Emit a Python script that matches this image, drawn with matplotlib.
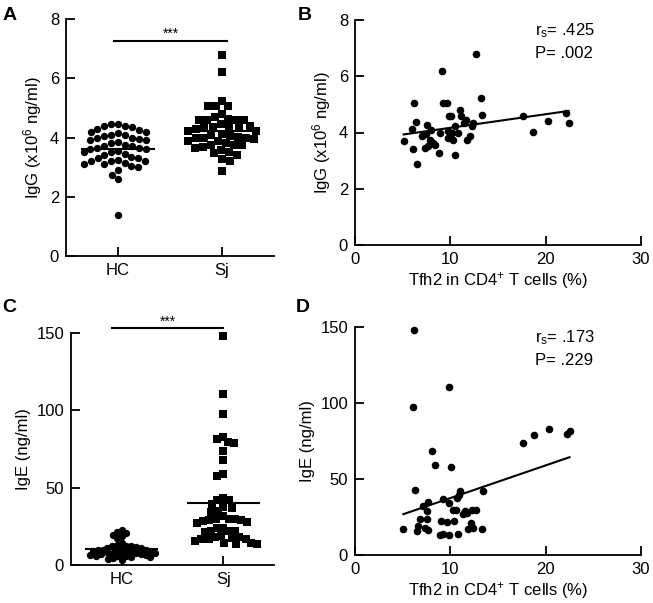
import matplotlib
matplotlib.use("Agg")
import matplotlib.pyplot as plt
import numpy as np

plt.rcParams['font.family'] = ['Liberation Sans', 'DejaVu Sans']
plt.rcParams['mathtext.fontset'] = 'custom'
plt.rcParams['mathtext.rm'] = 'Liberation Sans'
plt.rcParams['mathtext.it'] = 'Liberation Sans:italic'

groups = ["HC", "Sj"]

# IgG (x10^6 ng/ml), healthy controls
hc_igg = [1.4, 2.6, 2.75, 2.9, 3.0, 3.05, 3.1, 3.1, 3.15, 3.2, 3.2, 3.2, 3.25, 3.3, 3.3,
          3.35, 3.4, 3.45, 3.5, 3.5, 3.55, 3.6, 3.6, 3.65, 3.65, 3.7, 3.7, 3.75, 3.8, 3.85,
          3.9, 3.9, 3.95, 4.0, 4.0, 4.05, 4.1, 4.1, 4.15, 4.2, 4.2, 4.25, 4.3, 4.35, 4.4,
          4.4, 4.45, 4.45]

# Sjogren patients: Tfh2 % in CD4+ T cells vs IgG
sj_tfh2_igg = [5.1, 6.1, 6.0, 6.2, 6.4, 6.5, 7.0, 7.3, 7.6, 7.7, 7.9, 8.0, 8.2, 8.4, 8.8,
               8.9, 9.1, 9.2, 9.7, 9.8, 9.8, 9.9, 10.1, 10.3, 10.5, 10.5, 10.8, 11.0, 11.1,
               11.4, 11.7, 12.1, 12.3, 12.4, 12.7, 13.2, 13.3, 17.6, 18.7, 20.2, 22.1, 22.4,
               7.4, 10.2, 11.6]
sj_igg = [3.69, 3.40, 4.11, 5.05, 4.37, 2.87, 3.87, 3.46, 4.28, 3.52, 3.75, 4.10, 3.63,
          3.57, 3.26, 3.99, 6.20, 5.05, 5.05, 3.80, 4.05, 4.60, 4.58, 3.75, 3.20, 4.22,
          3.99, 4.81, 4.58, 4.34, 3.75, 3.87, 4.22, 4.34, 6.80, 5.23, 4.61, 4.58, 4.02,
          4.40, 4.70, 4.32, 3.95, 4.00, 4.45]
igg_fit = (3.684, 0.0483)  # intercept, slope
igg_stats = ("r$_{\\mathrm{s}}$= .425", "P= .002")

# IgE (ng/ml), healthy controls
hc_ige = [22.5, 21.5, 20.5, 19.5, 18.5, 17.5, 14, 13, 12.5, 12, 12, 11.5, 11, 11, 10.5,
          10, 10, 10, 9.5, 9, 9, 9, 8.5, 8, 8, 8, 7.5, 7, 7, 7, 6.5, 6.5, 6, 6, 5.5, 5, 5,
          4.5, 4, 3.5]

# Sjogren patients: Tfh2 % vs IgE
sj_tfh2_ige = [6.19, 6.12, 9.83, 8.04, 8.39, 10.07, 17.66, 18.78, 20.3, 22.2, 22.5, 6.29,
               5.07, 6.47, 6.64, 6.8, 7.17, 7.5, 7.7, 7.5, 7.3, 7.7, 8.99, 8.92, 9.27, 9.2,
               9.7, 9.9, 9.9, 10.4, 10.3, 10.6, 10.8, 10.7, 11.0, 10.9, 11.3, 11.5, 11.8,
               11.9, 12.2, 12.4, 12.3, 12.7, 13.3, 13.4]
sj_ige = [147.8, 97.4, 110.3, 68.2, 59.0, 57.7, 73.7, 79.2, 82.9, 79.6, 81.4, 43.0, 17.1,
          15.6, 18.9, 23.9, 32.0, 29.2, 34.9, 23.9, 17.8, 16.7, 22.1, 13.4, 14.0, 37.1,
          21.7, 34.4, 13.4, 22.1, 29.4, 29.8, 14.0, 37.5, 41.9, 39.7, 27.0, 28.7, 27.6,
          17.3, 21.1, 17.8, 29.8, 29.8, 17.1, 41.9]
ige_fit = (15.95, 2.15)
ige_stats = ("r$_{\\mathrm{s}}$= .173", "P= .229")

W, H = 653, 603
fig = plt.figure(figsize=(W / 100, H / 100), dpi=100)


def px_axes(l, t, r, b):
    return fig.add_axes([l / W, 1 - b / H, (r - l) / W, (b - t) / H])


def style(ax):
    for s in ("top", "right"):
        ax.spines[s].set_visible(False)
    for s in ("left", "bottom"):
        ax.spines[s].set_linewidth(1.3)
    ax.tick_params(direction="in", length=6.5, width=1.3, labelsize=12, pad=5)


def swarm(ax, values, d, half=0.34):
    # simple beeswarm in pixel space, squeezed to a maximum half-width
    vals = np.asarray(values, float)
    pts = ax.transData.transform(np.column_stack([np.zeros(len(vals)), vals]))
    ypx = pts[:, 1]
    ppu = ax.transData.transform((1, 0))[0] - ax.transData.transform((0, 0))[0]
    placed, off = [], np.zeros(len(vals))
    for i in np.argsort(-ypx):
        y = ypx[i]
        near = [(xo, yo) for xo, yo in placed if abs(yo - y) < d]
        cands = [0.0]
        for xo, yo in near:
            dx = np.sqrt(d * d - (yo - y) ** 2)
            cands += [xo - dx, xo + dx]
        cands.sort(key=lambda c: (abs(c), c))
        for c in cands:
            if all((c - xo) ** 2 + (y - yo) ** 2 >= d * d - 1e-6 for xo, yo in near):
                break
        off[i] = c
        placed.append((c, y))
    off = off / ppu
    m = np.abs(off).max()
    if m > half:
        off *= half / m
    return off


def dot_panel(ax, hc, sj, ylim, yticks, ylabel, sig_y, sig_x, d_hc, d_sj):
    style(ax)
    ax.set_xlim(-0.5, 1.5)
    ax.set_ylim(*ylim)
    ax.set_yticks(yticks)
    ax.set_xticks([0, 1])
    ax.set_xticklabels(groups)
    ax.set_ylabel(ylabel, fontsize=12)
    ax.scatter(0 + swarm(ax, hc, d_hc, 0.33), hc, s=28, marker="o", color="black", lw=0,
               clip_on=False)
    ax.scatter(1 + swarm(ax, sj, d_sj, 0.33), sj, s=34, marker="s", color="black", lw=0,
               clip_on=False)
    for x, v in ((0, hc), (1, sj)):
        ax.plot([x - 0.35, x + 0.35], [np.mean(v)] * 2, color="black", lw=1.5)
    ax.plot(sig_x, [sig_y, sig_y], color="black", lw=1.5, clip_on=False)
    ax.text(np.mean(sig_x), sig_y, "***", ha="center", va="bottom", fontsize=10)


def corr_panel(ax, x, y, ylim, yticks, ylabel, fit, stats):
    style(ax)
    ax.set_xlim(0, 30)
    ax.set_ylim(*ylim)
    ax.set_xticks([0, 10, 20, 30])
    ax.set_yticks(yticks)
    ax.set_ylabel(ylabel, fontsize=12)
    ax.set_xlabel("Tfh2 in CD4$^{+}$ T cells (%)", fontsize=12, labelpad=2)
    ax.scatter(x, y, s=30, color="black", lw=0, clip_on=False)
    xs = np.array([min(x), max(x)])
    ax.plot(xs, fit[0] + fit[1] * xs, color="black", lw=1.5)
    ax.text(0.63, 0.995, stats[0], transform=ax.transAxes, fontsize=12, va="top")
    ax.text(0.63, 0.885, stats[1], transform=ax.transAxes, fontsize=12, va="top")


axA = px_axes(66, 19, 274, 256)
dot_panel(axA, hc_igg, sj_igg, (0, 8), [0, 2, 4, 6, 8], "IgG (x10$^{6}$ ng/ml)",
          7.26, [-0.04, 1.05], 8.6, 8.2)

axB = px_axes(355, 20, 641, 245)
corr_panel(axB, sj_tfh2_igg, sj_igg, (0, 8), [0, 2, 4, 6, 8], "IgG (x10$^{6}$ ng/ml)",
           igg_fit, igg_stats)

axC = px_axes(71, 333, 274, 565)
dot_panel(axC, hc_ige, sj_ige, (0, 150), [0, 50, 100, 150], "IgE (ng/ml)",
          153, [-0.1, 1.0], 5.0, 8.2)

axD = px_axes(355, 327, 641, 555)
corr_panel(axD, sj_tfh2_ige, sj_ige, (0, 150), [0, 50, 100, 150], "IgE (ng/ml)",
           ige_fit, ige_stats)

for lab, (px, py) in zip("ABCD", [(10, 15), (305, 15), (9, 308), (303, 308)]):
    fig.text(px / W, 1 - py / H, lab, fontsize=14, fontweight="bold", ha="center", va="center")

fig.savefig("out.png", dpi=100)
